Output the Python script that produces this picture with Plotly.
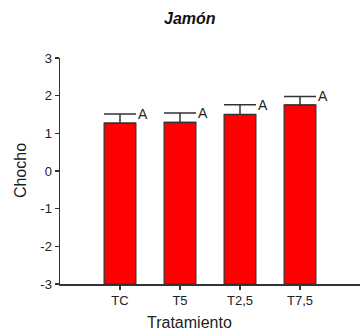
import plotly.graph_objects as go

categories = ["TC", "T5", "T2,5", "T7,5"]
values = [1.27, 1.29, 1.50, 1.75]
errors = [0.24, 0.25, 0.26, 0.23]
letters = ["A", "A", "A", "A"]
y_ticks = [-3, -2, -1, 0, 1, 2, 3]
baseline = -3

xs = list(range(len(categories)))
FONT = "Arial, Liberation Sans, sans-serif"

fig = go.Figure()
fig.add_trace(go.Bar(
    x=xs, y=[v - baseline for v in values], base=baseline,
    width=0.53,
    marker=dict(color="#FF0000", line=dict(color="#333333", width=1.2)),
    showlegend=False, hoverinfo="skip"))
fig.add_trace(go.Scatter(
    x=xs, y=values, mode="markers",
    marker=dict(size=1, color="rgba(0,0,0,0)"),
    error_y=dict(type="data", symmetric=False, array=errors,
                 arrayminus=[0]*len(errors), width=16, thickness=1.5,
                 color="#333333"),
    showlegend=False, hoverinfo="skip"))

for i, (v, e, l) in enumerate(zip(values, errors, letters)):
    fig.add_annotation(x=i, y=v + e, text=l, showarrow=False,
                       xanchor="left", yanchor="middle", xshift=16,
                       font=dict(family=FONT, size=14, color="#222222"))

fig.add_annotation(x=0.433, y=1, xref="paper", yref="paper", yshift=40,
                   text="<b><i>Jamón</i></b>", showarrow=False,
                   font=dict(family=FONT, size=16, color="#111111"),
                   xanchor="center", yanchor="middle")
fig.add_annotation(x=-0.133, y=0.5, xref="paper", yref="paper",
                   text="Chocho", textangle=-90, showarrow=False,
                   font=dict(family=FONT, size=16, color="#222222"),
                   xanchor="center", yanchor="middle")
fig.add_annotation(x=0.433, y=0, xref="paper", yref="paper", yshift=-38,
                   text="Tratamiento", showarrow=False,
                   font=dict(family=FONT, size=16, color="#222222"),
                   xanchor="center", yanchor="middle")

fig.update_layout(
    width=360, height=330,
    margin=dict(l=60, r=0, t=58, b=46),
    paper_bgcolor="white", plot_bgcolor="white",
    hovermode=False,
    xaxis=dict(range=[-1, 4], tickmode="array", tickvals=xs, ticktext=categories,
               showline=True, linecolor="#333333", linewidth=1.5,
               ticks="outside", ticklen=4, tickcolor="#333333", tickwidth=1.2,
               showgrid=False, zeroline=False,
               tickfont=dict(family=FONT, size=13, color="#222222")),
    yaxis=dict(range=[-3, 3], tickmode="array", tickvals=y_ticks,
               ticktext=[str(t) for t in y_ticks],
               showline=True, linecolor="#333333", linewidth=1.5,
               ticks="outside", ticklen=4, tickcolor="#333333", tickwidth=1.2,
               showgrid=False, zeroline=False,
               tickfont=dict(family=FONT, size=13, color="#222222")),
)

fig.write_html(
    "out.html",
    config={"displayModeBar": False, "staticPlot": True},
    post_script="document.body.style.margin='0';document.body.style.overflow='hidden';",
)
